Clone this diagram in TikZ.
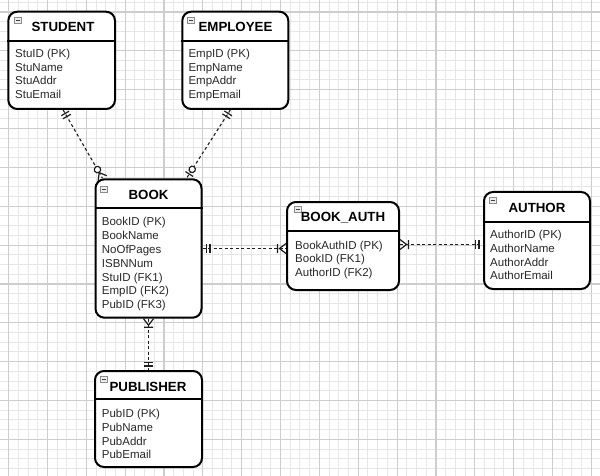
\documentclass[tikz,border=0pt]{standalone}
\usepackage{fontspec}
\setmainfont{Liberation Sans}
\usetikzlibrary{decorations.markings,calc}
\definecolor{gridmaj}{RGB}{205,205,205}
\definecolor{gridmin}{RGB}{230,230,230}
\definecolor{attrcol}{RGB}{40,40,40}
\definecolor{relcol}{RGB}{30,30,30}
\tikzset{
  entity/.style={draw=black, line width=2pt, rounded corners=9pt, fill=white, inner sep=0pt},
  hdr/.style={draw=black, line width=1.6pt},
  ttl/.style={font=\bfseries\fontsize{13.3}{15}\selectfont, anchor=base, inner sep=0pt, text=black},
  attr/.style={font=\fontsize{11.5}{13}\selectfont, anchor=base west, inner sep=0pt, text=attrcol},
  icon/.style={draw=gray!90, fill=gray!15, line width=0.7pt, minimum width=7pt, minimum height=6pt, inner sep=0pt},
  iconbar/.style={draw=black!75, line width=0.9pt},
  rel/.style={draw=relcol, line width=1.1pt, dash pattern=on 3pt off 2.5pt},
  sym/.style={draw=relcol, line width=1.2pt, solid},
  gmaj/.style={draw=gridmaj, line width=1.2pt},
  gmin/.style={draw=gridmin, line width=1pt},
}
\newcommand\symOne[1]{\draw[sym,xscale=#1] (4,-4.5)--(4,4.5) (7.5,-4.5)--(7.5,4.5);}
\newcommand\symOneMany[1]{\draw[sym,xscale=#1] (0,-5)--(6.5,0)--(0,5) (8.5,-4.5)--(8.5,4.5);}
\newcommand\symZeroMany[1]{\draw[sym,xscale=#1] (0,-5)--(6.5,0)--(0,5); \draw[sym,fill=white,xscale=#1] (10,0) circle[radius=3.2];}
\newcommand\symZeroOne[1]{\draw[sym,xscale=#1] (5,-4.5)--(5,4.5); \draw[sym,fill=white,xscale=#1] (10.5,0) circle[radius=3.2];}
\newcommand\attrlist[4]{%
  \foreach \t [count=\i] in {#4} \node[attr] (#1-\i) at (#2,{#3+13.8*(\i-1)}) {\t};}
\begin{document}
\begin{tikzpicture}[x=1pt,y=-1pt]
\useasboundingbox (0,0) rectangle (600,476);
\fill[white] (0,0) rectangle (600,476);
% grid
\begin{scope}
\clip (0,0) rectangle (600,476);
\foreach \i in {-4,...,62} \draw[gmin] ({8.6+9.7125*\i},0) -- ({8.6+9.7125*\i},476);
\foreach \i in {-4,...,50} \draw[gmin] (0,{12+9.7125*\i}) -- (600,{12+9.7125*\i});
\foreach \i in {-1,...,15} \draw[gmaj] ({8.6+38.85*\i},0) -- ({8.6+38.85*\i},476);
\foreach \i in {-1,...,12} \draw[gmaj] (0,{12+38.85*\i}) -- (600,{12+38.85*\i});
\end{scope}

% entities
\node[entity, minimum width=106.7pt, minimum height=97.3pt] (stu) at (61.65,60.35) {};
\node[entity, minimum width=106pt, minimum height=97.3pt] (emp) at (235.3,60.35) {};
\node[entity, minimum width=106pt, minimum height=138.4pt] (book) at (148.5,248.5) {};
\node[entity, minimum width=112pt, minimum height=88pt] (ba) at (343,246) {};
\node[entity, minimum width=106pt, minimum height=97pt] (auth) at (537,240.5) {};
\node[entity, minimum width=107pt, minimum height=96pt] (pub) at (148.5,419) {};

% header lines
\draw[hdr] (stu.west |- 0,41) -- (stu.east |- 0,41);
\draw[hdr] (emp.west |- 0,41) -- (emp.east |- 0,41);
\draw[hdr] (book.west |- 0,207.7) -- (book.east |- 0,207.7);
\draw[hdr] (ba.west |- 0,231) -- (ba.east |- 0,231);
\draw[hdr] (auth.west |- 0,222) -- (auth.east |- 0,222);
\draw[hdr] (pub.west |- 0,399) -- (pub.east |- 0,399);

% icons
\foreach \n/\x/\y in {stuIc/18/20.8, empIc/191/20.8, bookIc/104/189, baIc/298/209.5, authIc/493/200.5, pubIc/104/379.5}{
  \node[icon] (\n) at (\x,\y) {};
  \draw[iconbar] ([xshift=1.6pt]\n.west) -- ([xshift=-1.6pt]\n.east);
}

% titles
\node[ttl] (stuT) at (63,31.6) {STUDENT};
\node[ttl] (empT) at (235.5,31.6) {EMPLOYEE};
\node[ttl] (bookT) at (148.5,199.6) {BOOK};
\node[ttl] (baT) at (343,221.6) {BOOK\_AUTH};
\node[ttl] (authT) at (537,212.6) {AUTHOR};
\node[ttl] (pubT) at (148,391.6) {PUBLISHER};

% attributes
\attrlist{stuA}{15}{57.4}{StuID (PK),StuName,StuAddr,StuEmail}
\attrlist{empA}{188.3}{57.4}{EmpID (PK),EmpName,EmpAddr,EmpEmail}
\attrlist{bookA}{101.7}{225.8}{BookID (PK),BookName,NoOfPages,ISBNNum,StuID (FK1),EmpID (FK2),PubID (FK3)}
\attrlist{baA}{295}{249.1}{BookAuthID (PK),BookID (FK1),AuthorID (FK2)}
\attrlist{authA}{490}{238.4}{AuthorID (PK),AuthorName,AuthorAddr,AuthorEmail}
\attrlist{pubA}{101.7}{417.4}{PubID (PK),PubName,PubAddr,PubEmail}

% relationships
\draw[rel, postaction={decorate}, decoration={markings,
   mark=at position 0 with {\symOne{1}},
   mark=at position 1 with {\symZeroMany{-1}}}]
  ([xshift=1.5pt]stu.south) -- ([xshift=8pt]book.north west);
\draw[rel, postaction={decorate}, decoration={markings,
   mark=at position 0 with {\symOne{1}},
   mark=at position 1 with {\symZeroOne{-1}}}]
  ([xshift=-5pt]emp.south) -- ([xshift=-16pt]book.north east);
\draw[rel, postaction={decorate}, decoration={markings,
   mark=at position 0 with {\symOne{1}},
   mark=at position 1 with {\symOneMany{-1}}}]
  (book.east) -- (book.east -| ba.west);
\draw[rel, postaction={decorate}, decoration={markings,
   mark=at position 0 with {\symOneMany{1}},
   mark=at position 1 with {\symOne{-1}}}]
  ([yshift=1.5pt]ba.east) -- ([yshift=1.5pt]ba.east -| auth.west);
\draw[rel, postaction={decorate}, decoration={markings,
   mark=at position 0 with {\symOneMany{1}},
   mark=at position 1 with {\symOne{-1}}}]
  (book.south) -- (book.south |- pub.north);
\end{tikzpicture}
\end{document}
